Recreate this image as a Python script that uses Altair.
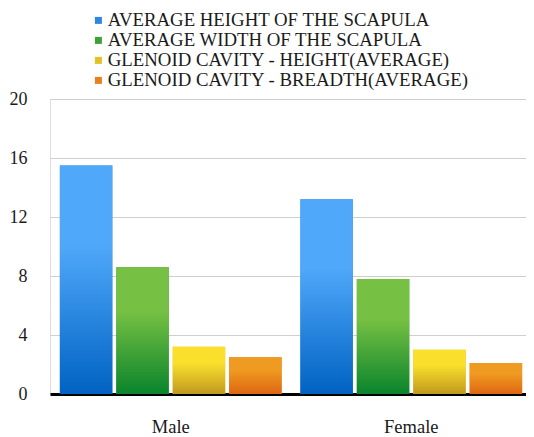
import altair as alt
import pandas as pd

categories = ["Male", "Female"]
series = [
    "AVERAGE HEIGHT OF THE SCAPULA",
    "AVERAGE WIDTH OF THE SCAPULA",
    "GLENOID CAVITY - HEIGHT(AVERAGE)",
    "GLENOID CAVITY - BREADTH(AVERAGE)",
]
height_scapula = [15.5, 13.2]
width_scapula = [8.6, 7.8]
glenoid_height = [3.2, 3.0]
glenoid_breadth = [2.5, 2.1]

solid_colors = ["#2F86E0", "#3FA03A", "#E2C126", "#E8811A"]
grad_top = ["#50A8FA", "#76C043", "#FADF2C", "#EF9A20"]
grad_bottom = ["#0062C2", "#0A842C", "#BF991E", "#DE6612"]

values_by_series = [height_scapula, width_scapula, glenoid_height, glenoid_breadth]
rows = []
for s, vals in zip(series, values_by_series):
    for c, v in zip(categories, vals):
        rows.append({"sex": c, "series": s, "value": v})
df = pd.DataFrame(rows)

FONT = "Liberation Serif"

x_enc = alt.X("sex:N", sort=categories, title=None,
              scale=alt.Scale(range=[0, 482], paddingInner=0.078, paddingOuter=0.041),
              axis=alt.Axis(labelAngle=0, labelFontSize=18.5, labelFont=FONT,
                            labelColor="#1a1a1a", ticks=False, labelPadding=23,
                            domainColor="black", domainWidth=3, grid=False))
xo_enc = alt.XOffset("series:N", sort=series,
                     scale=alt.Scale(domain=series, paddingInner=0.07, paddingOuter=0))
y_enc = alt.Y("value:Q", title=None,
              scale=alt.Scale(domain=[0, 20], nice=False),
              axis=alt.Axis(values=[0, 4, 8, 12, 16, 20], labelFontSize=18, labelFont=FONT,
                            labelColor="#1a1a1a", ticks=False, domain=False, labelPadding=23,
                            gridColor="#CFCFCF", gridWidth=1))

base = alt.Chart(df)

solid = base.mark_bar().encode(
    x=x_enc, xOffset=xo_enc, y=y_enc,
    color=alt.Color("series:N", sort=series,
                    scale=alt.Scale(domain=series, range=solid_colors),
                    legend=alt.Legend(title=None, orient="none", legendX=23, legendY=-88,
                                      labelFont=FONT, labelFontSize=18.8, labelColor="#1a1a1a",
                                      symbolType="square", symbolSize=49, symbolStrokeWidth=0,
                                      symbolOffset=16, labelOffset=0, rowPadding=-1, padding=0,
                                      labelLimit=500)),
)

layers = [solid]
for s, top, bot in zip(series, grad_top, grad_bottom):
    g = alt.Gradient(gradient="linear",
                     stops=[alt.GradientStop(offset=0, color=top),
                            alt.GradientStop(offset=0.35, color=top),
                            alt.GradientStop(offset=1, color=bot)],
                     x1=0, x2=0, y1=0, y2=1)
    layers.append(
        base.transform_filter(alt.datum.series == s)
        .mark_bar(color=g)
        .encode(x=x_enc, xOffset=xo_enc, y=y_enc)
    )

chart = alt.layer(*layers).properties(
    width=476, height=295,
    autosize=alt.AutoSizeParams(type="none"),
    padding={"left": 42, "top": 91, "right": 0, "bottom": 42},
).configure_view(stroke=None).configure(background="white")

chart.save("out.html", embed_options={"renderer": "svg", "actions": False})
